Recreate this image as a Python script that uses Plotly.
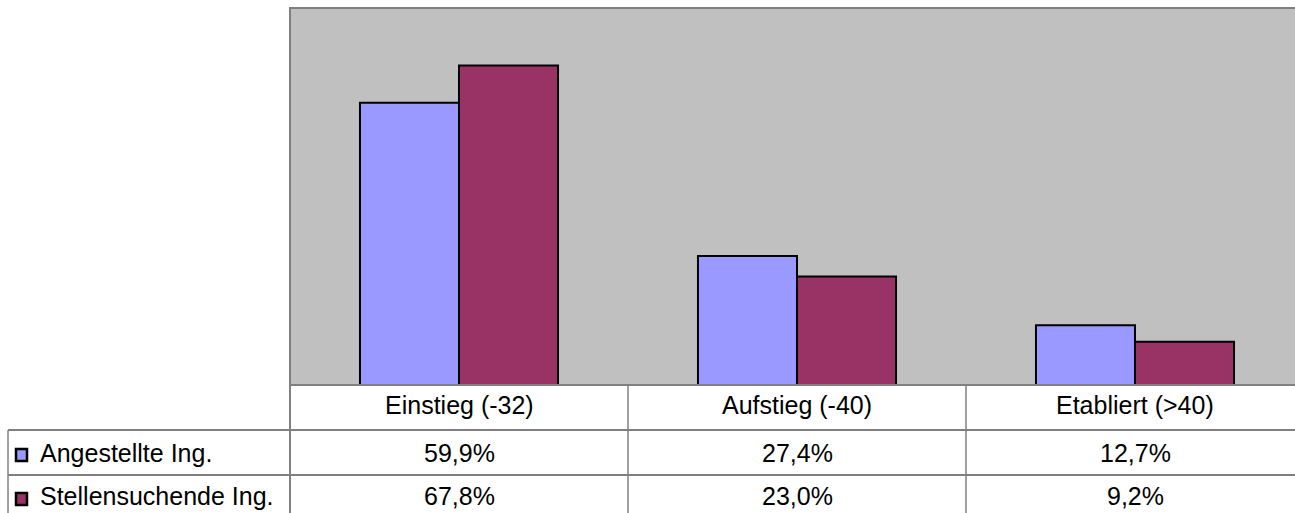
import plotly.graph_objects as go

categories = ["Einstieg (-32)", "Aufstieg (-40)", "Etabliert (>40)"]
series_names = ["Angestellte Ing.", "Stellensuchende Ing."]
angestellte = [59.9, 27.4, 12.7]
stellensuchende = [67.8, 23.0, 9.2]
labels_angestellte = ["59,9%", "27,4%", "12,7%"]
labels_stellensuchende = ["67,8%", "23,0%", "9,2%"]
colors = ["#9999FF", "#993366"]

W, H = 1295, 513
ML, MR, MT, MB = 290, 0, 8, 128
PW, PH = W - ML - MR, H - MT - MB
XMIN, XMAX = -0.5, 2.5 - 9 / 338
FONT = "Liberation Sans, Arial, sans-serif"
FS = 25

def px_to_py_paper(py):
    return (H - MB - py) / PH

def px_to_px_paper(px):
    return (px - ML) / PW

def cat_to_paper(c):
    return (c - XMIN) / (XMAX - XMIN)

fig = go.Figure()
for name, vals, col in zip(series_names, [angestellte, stellensuchende], colors):
    fig.add_trace(go.Bar(
        x=list(range(len(categories))), y=vals, name=name,
        marker=dict(color=col, line=dict(color="#000000", width=2)),
        hoverinfo="skip"))

shapes = []
# plot area border
shapes.append(dict(type="rect", xref="paper", yref="paper", x0=0, x1=1.01, y0=0, y1=1,
                   line=dict(color="#808080", width=2), layer="above"))
# table lines
y_bottom = px_to_py_paper(H + 5)
row_lines = [430, 475]
for py in row_lines:
    shapes.append(dict(type="line", xref="paper", yref="paper",
                       x0=px_to_px_paper(8), x1=1.01, y0=px_to_py_paper(py), y1=px_to_py_paper(py),
                       line=dict(color="#000000", width=1)))
# vertical separators between categories
for b in [-0.5, 0.5, 1.5]:
    xp = cat_to_paper(b)
    shapes.append(dict(type="line", xref="paper", yref="paper",
                       x0=xp, x1=xp, y0=0, y1=y_bottom,
                       line=dict(color="#808080", width=2 if b == -0.5 else 1.5)))
# left edge of legend column
shapes.append(dict(type="line", xref="paper", yref="paper",
                   x0=px_to_px_paper(8), x1=px_to_px_paper(8),
                   y0=px_to_py_paper(430), y1=y_bottom,
                   line=dict(color="#808080", width=1.5)))
# legend swatches
for col, cy in zip(colors, [455, 499]):
    shapes.append(dict(type="rect", xref="paper", yref="paper",
                       x0=px_to_px_paper(16), x1=px_to_px_paper(27),
                       y0=px_to_py_paper(cy - 6), y1=px_to_py_paper(cy + 6),
                       fillcolor=col, line=dict(color="#000000", width=2.5)))

annotations = []
header_y = px_to_py_paper(405)
row_y = [px_to_py_paper(453), px_to_py_paper(496)]
for i, c in enumerate(categories):
    annotations.append(dict(x=i, y=header_y, xref="x", yref="paper", text=c,
                            showarrow=False, xanchor="center", yanchor="middle",
                            font=dict(family=FONT, size=FS, color="#000")))
for labels, ry in zip([labels_angestellte, labels_stellensuchende], row_y):
    for i, t in enumerate(labels):
        annotations.append(dict(x=i, y=ry, xref="x", yref="paper", text=t,
                                showarrow=False, xanchor="center", yanchor="middle",
                                font=dict(family=FONT, size=FS, color="#000")))
for name, ry in zip(series_names, row_y):
    annotations.append(dict(x=px_to_px_paper(38), y=ry, xref="paper", yref="paper", text=name,
                            showarrow=False, xanchor="left", yanchor="middle",
                            font=dict(family=FONT, size=FS, color="#000")))

fig.update_layout(
    width=W, height=H,
    margin=dict(l=ML, r=MR, t=MT, b=MB, pad=0),
    paper_bgcolor="#FFFFFF", plot_bgcolor="#C0C0C0",
    barmode="group", bargap=0.414, bargroupgap=0,
    showlegend=False,
    xaxis=dict(range=[XMIN, XMAX], showticklabels=False, showgrid=False, zeroline=False,
               ticks="", showline=False, fixedrange=True),
    yaxis=dict(range=[0, 80], showticklabels=False, showgrid=False, zeroline=False,
               ticks="", showline=False, fixedrange=True),
    shapes=shapes, annotations=annotations,
)
fig.write_html("out.html")
